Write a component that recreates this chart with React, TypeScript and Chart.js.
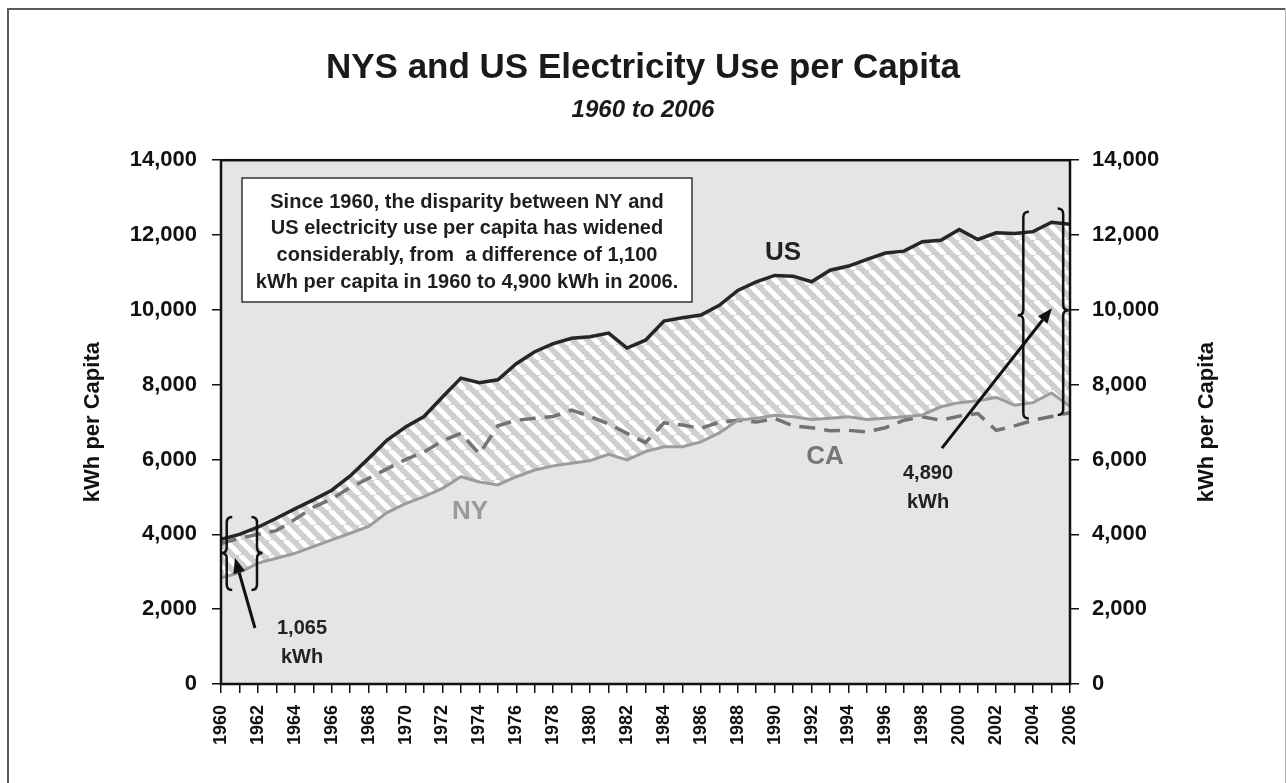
import React, { useEffect, useRef } from "react";
import { Chart, registerables } from "chart.js";

Chart.register(...registerables);

// ---------- DATA ----------
const years = [
  1960, 1961, 1962, 1963, 1964, 1965, 1966, 1967, 1968, 1969,
  1970, 1971, 1972, 1973, 1974, 1975, 1976, 1977, 1978, 1979,
  1980, 1981, 1982, 1983, 1984, 1985, 1986, 1987, 1988, 1989,
  1990, 1991, 1992, 1993, 1994, 1995, 1996, 1997, 1998, 1999,
  2000, 2001, 2002, 2003, 2004, 2005, 2006,
];

const usValues = [
  3870, 4000, 4190, 4430, 4680, 4920, 5180, 5560, 6030, 6520,
  6870, 7150, 7670, 8175, 8050, 8130, 8560, 8880, 9100, 9240,
  9280, 9380, 8980, 9190, 9700, 9790, 9860, 10120, 10520, 10750,
  10920, 10900, 10750, 11060, 11170, 11350, 11520, 11570, 11820, 11860,
  12150, 11880, 12060, 12040, 12090, 12340, 12290,
];

const nyValues = [
  2830, 2980, 3230, 3360, 3490, 3670, 3850, 4030, 4210, 4580,
  4820, 5010, 5230, 5540, 5400, 5320, 5540, 5720, 5830, 5900,
  5970, 6140, 5990, 6210, 6340, 6340, 6470, 6710, 7050, 7100,
  7180, 7140, 7070, 7100, 7140, 7070, 7100, 7140, 7190, 7410,
  7520, 7570, 7660, 7450, 7520, 7780, 7420,
];

const caValues = [
  3750, 3900, 4000, 4100, 4400, 4720, 4950, 5250, 5500, 5750,
  6000, 6200, 6500, 6700, 6150, 6900, 7050, 7100, 7150, 7320,
  7150, 6950, 6700, 6450, 6980, 6920, 6830, 7000, 7050, 7000,
  7100, 6900, 6850, 6770, 6780, 6740, 6850, 7050, 7140, 7050,
  7160, 7230, 6780, 6900, 7050, 7150, 7250,
];

const yTicks = [0, 2000, 4000, 6000, 8000, 10000, 12000, 14000];

const TITLE = "NYS and US Electricity Use per Capita";
const SUBTITLE = "1960 to 2006";
const AXIS_TITLE = "kWh per Capita";
const NOTE_LINES = [
  "Since 1960, the disparity between NY and",
  "US electricity use per capita has widened",
  "considerably, from  a difference of 1,100",
  "kWh per capita in 1960 to 4,900 kWh in 2006.",
];
const GAP_1960 = ["1,065", "kWh"];
const GAP_2006 = ["4,890", "kWh"];

const FONT = '"Liberation Sans", Arial, Helvetica, sans-serif';

function makeHatch(): CanvasPattern | string {
  const n = 15;
  const c = document.createElement("canvas");
  c.width = n;
  c.height = n;
  const g = c.getContext("2d");
  if (!g) return "#d4d4d4";
  g.fillStyle = "#cfcfcf";
  g.fillRect(0, 0, n, n);
  g.strokeStyle = "#ffffff";
  g.lineWidth = 5;
  for (const k of [-n, 0, n]) {
    g.beginPath();
    g.moveTo(k, 0);
    g.lineTo(k + n, n);
    g.stroke();
  }
  const p = g.createPattern(c, "repeat");
  return p || "#d4d4d4";
}

function drawBrace(ctx: CanvasRenderingContext2D, x: number, yTop: number, yBot: number, yMid: number, dir: number) {
  const w = 5.5;
  const hook = x - dir * w;
  const cusp = x + dir * w;
  ctx.beginPath();
  ctx.moveTo(hook, yTop);
  ctx.quadraticCurveTo(x, yTop, x, yTop + w);
  ctx.lineTo(x, yMid - w);
  ctx.quadraticCurveTo(x, yMid, cusp, yMid);
  ctx.quadraticCurveTo(x, yMid, x, yMid + w);
  ctx.lineTo(x, yBot - w);
  ctx.quadraticCurveTo(x, yBot, hook, yBot);
  ctx.stroke();
}

function drawArrow(ctx: CanvasRenderingContext2D, x1: number, y1: number, x2: number, y2: number) {
  const ang = Math.atan2(y2 - y1, x2 - x1);
  const hl = 15;
  const hw = 6;
  const bx = x2 - hl * Math.cos(ang);
  const by = y2 - hl * Math.sin(ang);
  ctx.beginPath();
  ctx.moveTo(x1, y1);
  ctx.lineTo(bx, by);
  ctx.stroke();
  ctx.beginPath();
  ctx.moveTo(x2, y2);
  ctx.lineTo(bx + hw * Math.sin(ang), by - hw * Math.cos(ang));
  ctx.lineTo(bx - hw * Math.sin(ang), by + hw * Math.cos(ang));
  ctx.closePath();
  ctx.fill();
}

const decorPlugin = {
  id: "decor",
  beforeDraw(chart: any) {
    const { ctx, chartArea: a, width, height } = chart;
    ctx.save();
    ctx.fillStyle = "#ffffff";
    ctx.fillRect(0, 0, width, height);
    ctx.fillStyle = "#5a5a5a";
    ctx.fillRect(7, 8, width - 7, 2);
    ctx.fillRect(7, 8, 2, height - 8);
    ctx.fillStyle = "#b4b4b4";
    ctx.fillRect(width - 1, 8, 1, height - 8);
    ctx.fillStyle = "#e4e5e7";
    ctx.fillRect(a.left, a.top, a.right - a.left, a.bottom - a.top);
    ctx.restore();
  },
  afterDatasetsDraw(chart: any) {
    const { ctx, chartArea: a } = chart;
    const xs = chart.scales.x;
    const ys = chart.scales.y;
    const X = (v: number) => xs.getPixelForValue(v);
    const Y = (v: number) => ys.getPixelForValue(v);
    ctx.save();

    // plot border
    ctx.strokeStyle = "#111";
    ctx.lineWidth = 2.5;
    ctx.strokeRect(a.left, a.top, a.right - a.left, a.bottom - a.top);

    // note box
    ctx.fillStyle = "#ffffff";
    ctx.fillRect(242, 178, 450, 124);
    ctx.strokeStyle = "#333";
    ctx.lineWidth = 1.5;
    ctx.strokeRect(242, 178, 450, 124);
    ctx.fillStyle = "#1e1e1e";
    ctx.font = `bold 20px ${FONT}`;
    ctx.textAlign = "center";
    ctx.textBaseline = "middle";
    NOTE_LINES.forEach((t, i) => ctx.fillText(t, 467, 202 + i * 26.7));

    // series labels
    ctx.font = `bold 26px ${FONT}`;
    ctx.fillStyle = "#222";
    ctx.fillText("US", 783, 253);
    ctx.fillStyle = "#9a9a9a";
    ctx.fillText("NY", 470, 512);
    ctx.fillStyle = "#767676";
    ctx.fillText("CA", 825, 457);

    // gap labels
    ctx.fillStyle = "#222";
    ctx.font = `bold 20px ${FONT}`;
    ctx.fillText(GAP_1960[0], 302, 628);
    ctx.fillText(GAP_1960[1], 302, 657);
    ctx.fillText(GAP_2006[0], 928, 473);
    ctx.fillText(GAP_2006[1], 928, 502);

    // braces
    ctx.strokeStyle = "#111";
    ctx.lineWidth = 2.5;
    drawBrace(ctx, X(1960.31), Y(4462), Y(2511), Y(3500), -1);
    drawBrace(ctx, X(1961.95), Y(4462), Y(2511), Y(3500), 1);
    drawBrace(ctx, X(2003.47), Y(12619), Y(7099), Y(9859), -1);
    drawBrace(ctx, X(2005.63), Y(12710), Y(7187), Y(9992), 1);

    // arrows
    ctx.fillStyle = "#111";
    ctx.lineWidth = 3;
    drawArrow(ctx, X(1961.84), Y(1496), X(1960.76), Y(3366));
    drawArrow(ctx, X(1999.06), Y(6305), X(2005.02), Y(10045));

    // axis titles
    ctx.fillStyle = "#111";
    ctx.font = `bold 22px ${FONT}`;
    const cy = (a.top + a.bottom) / 2;
    for (const cx of [93, 1207]) {
      ctx.save();
      ctx.translate(cx, cy);
      ctx.rotate(-Math.PI / 2);
      ctx.fillText(AXIS_TITLE, 0, 0);
      ctx.restore();
    }
    ctx.restore();
  },
};

export default function App() {
  const ref = useRef<HTMLCanvasElement | null>(null);

  useEffect(() => {
    if (!ref.current) return;
    const hatch = makeHatch();
    const toPts = (vals: number[]) => years.map((y, i) => ({ x: y, y: vals[i] }));
    const yTickFmt = (v: any) => (yTicks.includes(Number(v)) ? Number(v).toLocaleString("en-US") : "");
    const tickFont = { family: FONT, size: 22, weight: "bold" as const };

    const chart = new Chart(ref.current, {
      type: "line",
      data: {
        datasets: [
          {
            label: "US",
            data: toPts(usValues),
            borderColor: "#262626",
            borderWidth: 3.5,
            pointRadius: 0,
            tension: 0,
            fill: { target: 1 },
            backgroundColor: hatch as any,
          },
          {
            label: "NY",
            data: toPts(nyValues),
            borderColor: "#9c9c9c",
            borderWidth: 3,
            pointRadius: 0,
            tension: 0,
            fill: false,
          },
          {
            label: "CA",
            data: toPts(caValues),
            borderColor: "#737373",
            borderWidth: 3.5,
            borderDash: [16, 9],
            pointRadius: 0,
            tension: 0,
            fill: false,
          },
        ],
      },
      options: {
        responsive: false,
        animation: false,
        devicePixelRatio: 1,
        layout: { padding: 0 },
        plugins: {
          legend: { display: false },
          tooltip: { enabled: false },
          filler: { drawTime: "beforeDatasetsDraw" },
          title: {
            display: true,
            text: TITLE,
            color: "#1a1a1a",
            font: { family: FONT, size: 35, weight: "bold", lineHeight: 1.2 },
            padding: { top: 47, bottom: 0 },
          },
          subtitle: {
            display: true,
            text: SUBTITLE,
            color: "#1a1a1a",
            font: { family: FONT, size: 24, weight: "bold", style: "italic", lineHeight: 1.2 },
            padding: { top: 7, bottom: 35.4 },
          },
        },
        scales: {
          x: {
            type: "linear",
            min: 1960,
            max: 2006,
            afterFit: (s: any) => { s.height = 99; },
            border: { display: false },
            grid: { drawOnChartArea: false, drawTicks: true, tickLength: 9, color: "#111", lineWidth: 1.5 },
            ticks: {
              stepSize: 1,
              autoSkip: false,
              maxRotation: 90,
              minRotation: 90,
              padding: 12,
              color: "#111",
              font: { family: FONT, size: 18, weight: "bold" },
              callback: (v: any) => (Number(v) % 2 === 0 ? String(v) : ""),
            },
          },
          y: {
            position: "left",
            min: 0,
            max: 14000,
            afterFit: (s: any) => { s.width = 221; },
            border: { display: false },
            grid: { drawOnChartArea: false, drawTicks: true, tickLength: 9, color: "#111", lineWidth: 1.5 },
            ticks: { stepSize: 2000, padding: 15, color: "#111", font: tickFont, callback: yTickFmt },
          },
          y2: {
            position: "right",
            min: 0,
            max: 14000,
            afterFit: (s: any) => { s.width = 216; },
            border: { display: false },
            grid: { drawOnChartArea: false, drawTicks: true, tickLength: 9, color: "#111", lineWidth: 1.5 },
            ticks: { stepSize: 2000, padding: 13, color: "#111", font: tickFont, callback: yTickFmt },
          },
        },
      },
      plugins: [decorPlugin],
    });
    return () => chart.destroy();
  }, []);

  return (
    <div style={{ position: "fixed", left: 0, top: 0, width: 1286, height: 783, background: "#fff" }}>
      <canvas ref={ref} width={1286} height={783} style={{ display: "block" }} />
    </div>
  );
}
